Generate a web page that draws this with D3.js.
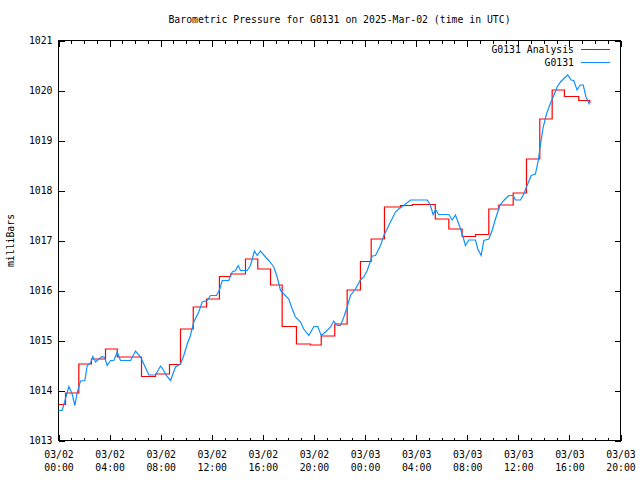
<!DOCTYPE html>
<html>
<head>
<meta charset="utf-8">
<script src="https://cdn.jsdelivr.net/npm/d3@7"></script>
<style>
html,body{margin:0;padding:0;background:#fff;}
svg{display:block;}
text{font-family:"DejaVu Sans Mono","Liberation Mono",monospace;font-size:9.8px;fill:#000;}
</style>
</head>
<body>
<script>
// ---- data (hours after 2025-03-02 00:00 UTC) ----
const analysisHours = [0,0.55,1.59,2.58,3.68,4.6,6.5,7.6,8.69,9.55,10.55,11.59,12.6,13.47,14.64,15.6,16.6,17.51,18.63,19.73,20.57,21.63,22.6,23.64,24.48,25.52,26.77,27.7,29.5,30.56,31.6,32.65,33.69,34.47,35.6,36.64,37.68,38.65,39.61,40.73,41.6];
const analysisValues = [1013.72,1013.95,1014.53,1014.63,1014.83,1014.67,1014.28,1014.33,1014.52,1015.23,1015.67,1015.83,1016.28,1016.33,1016.63,1016.43,1016.11,1015.28,1014.93,1014.91,1015.09,1015.33,1016.01,1016.58,1017.03,1017.67,1017.70,1017.72,1017.43,1017.23,1017.08,1017.12,1017.63,1017.71,1017.95,1018.63,1019.43,1020.01,1019.88,1019.80,1019.75];

const obsHours = [0,0.29,0.81,1.07,1.28,1.46,1.72,2.06,2.25,2.51,2.69,2.90,3.16,3.42,3.62,3.81,4.07,4.33,4.60,4.85,5.64,6.03,6.42,6.68,7.07,7.59,7.99,8.24,8.38,8.77,9.16,9.55,9.81,10.08,10.33,10.59,10.98,11.25,11.64,11.90,12.37,12.63,12.82,13.33,13.60,13.86,14.07,14.25,14.77,15.03,15.34,15.56,15.81,16.21,16.46,16.86,17.12,17.38,17.64,18.03,18.30,18.55,18.95,19.20,19.60,19.99,20.30,20.57,20.90,21.30,21.55,21.82,22.08,22.34,22.60,22.86,23.25,23.64,23.90,24.17,24.56,24.82,25.21,25.47,25.73,25.99,26.38,26.64,27.03,27.56,28.87,29.12,29.33,29.52,29.77,30.56,30.82,31.08,31.34,31.61,31.86,32.12,32.65,32.83,33.09,33.30,33.69,33.95,34.21,34.55,34.86,35.25,35.60,35.78,36.17,36.43,36.64,37.01,37.34,37.56,37.74,37.95,38.21,38.52,38.78,39.04,39.30,39.61,39.87,40.13,40.34,40.60,40.85,41.08,41.30,41.57];
const obsValues = [1013.60,1013.60,1014.08,1013.93,1013.70,1013.95,1014.19,1014.20,1014.50,1014.55,1014.68,1014.57,1014.63,1014.68,1014.66,1014.50,1014.60,1014.60,1014.77,1014.60,1014.60,1014.79,1014.67,1014.53,1014.31,1014.31,1014.49,1014.40,1014.32,1014.20,1014.47,1014.53,1014.70,1014.93,1015.10,1015.37,1015.57,1015.77,1015.80,1015.90,1015.90,1016.03,1016.20,1016.20,1016.37,1016.40,1016.50,1016.40,1016.40,1016.50,1016.79,1016.70,1016.79,1016.67,1016.60,1016.47,1016.27,1016.00,1015.93,1015.83,1015.63,1015.47,1015.37,1015.23,1015.10,1015.28,1015.28,1015.10,1015.17,1015.27,1015.39,1015.30,1015.30,1015.47,1015.67,1015.90,1016.03,1016.21,1016.27,1016.40,1016.69,1016.70,1016.90,1017.10,1017.23,1017.37,1017.57,1017.63,1017.70,1017.81,1017.81,1017.70,1017.52,1017.62,1017.52,1017.52,1017.41,1017.51,1017.33,1017.13,1016.90,1017.01,1017.01,1016.83,1016.70,1017.00,1017.03,1017.20,1017.43,1017.70,1017.80,1017.90,1017.90,1017.81,1017.81,1017.93,1018.07,1018.30,1018.33,1018.60,1018.93,1019.27,1019.53,1019.75,1019.90,1020.07,1020.17,1020.25,1020.31,1020.21,1020.20,1020.01,1020.11,1020.11,1019.87,1019.72];

const yTicks = [1013,1014,1015,1016,1017,1018,1019,1020,1021];
const seriesNames = ["G0131 Analysis","G0131"];
const seriesColors = ["#ff0000","#1090ff"];
const titleText = "Barometric Pressure for G0131 on 2025-Mar-02 (time in UTC)";
const yLabel = "milliBars";

// ---- chart ----
const W = 640, H = 480;
const L = 58.5, R = 620.5, T = 40.5, B = 440.5;
const t0 = Date.UTC(2025,2,2,0,0);
const toDate = h => new Date(t0 + h*3600000);

const svg = d3.select("body").append("svg").attr("width",W).attr("height",H);

const x = d3.scaleUtc().domain([toDate(0), toDate(44)]).range([L,R]);
const y = d3.scaleLinear().domain([1013,1021]).range([B,T]);

// frame
svg.append("rect").attr("x",L).attr("y",T).attr("width",R-L).attr("height",B-T)
  .attr("fill","none").attr("stroke","#000").attr("shape-rendering","crispEdges");

function styleAxis(g){
  g.select(".domain").remove();
  g.selectAll("line").attr("stroke","#000").attr("shape-rendering","crispEdges");
  g.selectAll("text").attr("font-family",null).attr("font-size",null).attr("fill","#000");
}

// minor x ticks (hourly)
const minor = d3.utcHour.every(1).range(toDate(0), toDate(44.01));
svg.append("g").attr("transform",`translate(0,${B})`)
  .call(d3.axisBottom(x).tickValues(minor).tickSize(-3).tickFormat(""))
  .call(styleAxis);
svg.append("g").attr("transform",`translate(0,${T})`)
  .call(d3.axisTop(x).tickValues(minor).tickSize(-3).tickFormat(""))
  .call(styleAxis);

// major x ticks
const major = d3.utcHour.every(4).range(toDate(0), toDate(44.01));
const fDate = d3.utcFormat("%m/%d"), fTime = d3.utcFormat("%H:%M");
const gx = svg.append("g").attr("transform",`translate(0,${B})`)
  .call(d3.axisBottom(x).tickValues(major).tickSize(-6).tickPadding(0).tickFormat(""))
  .call(styleAxis);
gx.selectAll(".tick text").remove();
gx.selectAll(".tick").append("text").attr("text-anchor","middle").attr("y",17).text(d=>fDate(d));
gx.selectAll(".tick").append("text").attr("text-anchor","middle").attr("y",30).text(d=>fTime(d));
svg.append("g").attr("transform",`translate(0,${T})`)
  .call(d3.axisTop(x).tickValues(major).tickSize(-6).tickFormat(""))
  .call(styleAxis);

// y ticks
svg.append("g").attr("transform",`translate(${L},0)`)
  .call(d3.axisLeft(y).tickValues(yTicks).tickSize(-6).tickPadding(6).tickFormat(d3.format("d")))
  .call(styleAxis);
svg.append("g").attr("transform",`translate(${R},0)`)
  .call(d3.axisRight(y).tickValues(yTicks).tickSize(-6).tickFormat(""))
  .call(styleAxis);

// lines
const analysis = analysisHours.map((h,i)=>({t:toDate(h), v:analysisValues[i]}));
const obs = obsHours.map((h,i)=>({t:toDate(h), v:obsValues[i]}));

svg.append("path").datum(analysis)
  .attr("fill","none").attr("stroke",seriesColors[0]).attr("stroke-width",1.2)
  .attr("d", d3.line().x(d=>x(d.t)).y(d=>y(d.v)).curve(d3.curveStepAfter));
svg.append("path").datum(obs)
  .attr("fill","none").attr("stroke",seriesColors[1]).attr("stroke-width",1.2)
  .attr("d", d3.line().x(d=>x(d.t)).y(d=>y(d.v)));

// legend
const leg = svg.append("g");
seriesNames.forEach((n,i)=>{
  const yy = 49.5 + i*13;
  leg.append("text").attr("x",574).attr("y",yy).attr("dy","0.35em").attr("text-anchor","end").text(n);
  leg.append("line").attr("x1",581).attr("x2",610).attr("y1",yy).attr("y2",yy)
    .attr("stroke",seriesColors[i]).attr("stroke-width",1).attr("shape-rendering","crispEdges");
});

// title
svg.append("text").attr("x",(L+R)/2).attr("y",20).attr("dy","0.35em").attr("text-anchor","middle").text(titleText);

// y label
svg.append("text").attr("transform",`translate(11,${(T+B)/2}) rotate(-90)`)
  .attr("text-anchor","middle").attr("dy","0.35em").text(yLabel);
</script>
</body>
</html>
